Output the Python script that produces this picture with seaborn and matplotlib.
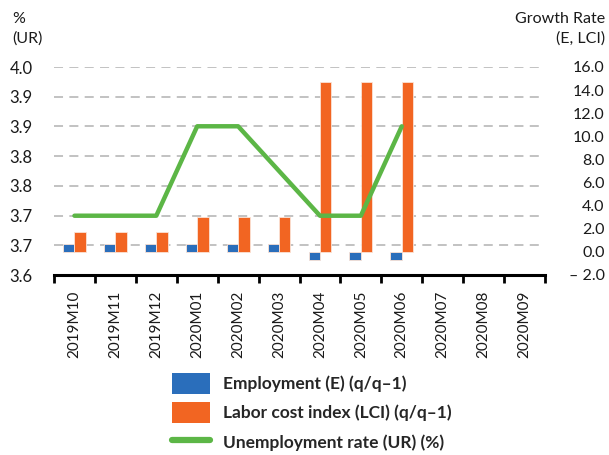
import numpy as np
import pandas as pd
import matplotlib
matplotlib.use("Agg")
import matplotlib.pyplot as plt
from matplotlib.patches import Patch
from matplotlib.lines import Line2D
from matplotlib.ticker import FuncFormatter
import seaborn as sns

# ---- data -------------------------------------------------------------
months = ["2019M10", "2019M11", "2019M12", "2020M01", "2020M02", "2020M03",
          "2020M04", "2020M05", "2020M06", "2020M07", "2020M08", "2020M09"]
observed = months[:9]

employment = [0.7, 0.7, 0.7, 0.7, 0.7, 0.7, -0.7, -0.7, -0.7]          # q/q-1, %
labor_cost = [1.7, 1.7, 1.7, 3.0, 3.0, 3.0, 14.7, 14.7, 14.7]          # q/q-1, %
unemployment = [3.714, 3.714, 3.714, 3.886, 3.886, 3.8, 3.714, 3.714, 3.886]  # %

ur_ticks = np.linspace(3.6, 4.0, 8)
growth_ticks = np.arange(-2, 17, 2)

name_e = "Employment (E) (q/q\u20131)"
name_lci = "Labor cost index (LCI) (q/q\u20131)"
name_ur = "Unemployment rate (UR) (%)"

blue = "#2A6EBB"
orange = "#F26522"
green = "#5CB646"
grid_grey = "#BDBDBD"

# ---- style ------------------------------------------------------------
sns.set_style("white")
plt.rcParams["font.family"] = ["Lato", "DejaVu Sans"]
fs = 11.5

W, H = 609, 455
fig = plt.figure(figsize=(W / 100, H / 100), dpi=100)
left, right, top, bottom = 54, 545, 67, 275
ax = fig.add_axes([left / W, 1 - bottom / H, (right - left) / W, (bottom - top) / H])

# unemployment scale (left) carries the dashed grid
ax.set_ylim(3.6, 4.0)
ax.set_yticks(ur_ticks)
ax.yaxis.set_major_formatter(FuncFormatter(lambda v, p: f"{v:.1f}"))
ax.yaxis.grid(True, color=grid_grey, linestyle=(0, (5, 3.5)), linewidth=1.3)
ax.xaxis.grid(False)
ax.tick_params(axis="y", length=0, pad=15.5, labelsize=fs + 0.5, colors="#1A1A1A")

# growth-rate bars on the right-hand scale
ax_bar = ax.twinx()
bars = pd.DataFrame({
    "month": observed * 2,
    "series": [name_e] * len(observed) + [name_lci] * len(observed),
    "value": employment + labor_cost,
})
sns.barplot(data=bars, x="month", y="value", hue="series", order=months,
            hue_order=[name_e, name_lci], palette=[blue, orange], width=0.56,
            saturation=1, errorbar=None, edgecolor="#FBE3D6", linewidth=0.6,
            legend=False, ax=ax_bar)
ax_bar.set_ylim(-2, 16)
ax_bar.set_yticks(growth_ticks)
ax_bar.set_yticklabels([f"{v:.1f}" if v >= 0 else f"\u2013 {abs(v):.1f}" for v in growth_ticks],
                       ha="right")
ax_bar.tick_params(axis="y", length=0, pad=43, labelsize=fs, colors="#1A1A1A")
ax_bar.set_ylabel("")
ax_bar.set_xlabel("")

# unemployment line, drawn above the bars
ax_line = ax.twinx()
sns.pointplot(x=observed, y=unemployment, order=months, color=green, markers="",
              linewidth=3.2, errorbar=None, ax=ax_line)
ax_line.set_ylim(3.6, 4.0)
ax_line.set_yticks([])
ax_line.set_ylabel("")

for a in (ax, ax_bar, ax_line):
    for s in a.spines.values():
        s.set_visible(False)
ax.spines["bottom"].set_visible(True)
ax.spines["bottom"].set_color("black")
ax.spines["bottom"].set_linewidth(2.2)

# category axis: labels at centres, tick marks at boundaries
ax.set_xlim(-0.5, len(months) - 0.5)
ax.set_xticks(range(len(months)))
ax.set_xticklabels(months, rotation=90, fontsize=fs - 0.5, color="#1A1A1A")
ax.set_xticks(np.arange(-0.5, len(months), 1), minor=True)
ax.tick_params(axis="x", which="both", bottom=True)
ax.tick_params(axis="x", which="major", length=0, pad=11)
ax.tick_params(axis="x", which="minor", length=6, width=2, color="black", direction="out")
ax.set_xlabel("")

# axis titles
fig.text(12 / W, 1 - 12 / H, "%\n(UR)", ha="left", va="top", fontsize=fs,
         linespacing=1.45, color="#1A1A1A")
fig.text(605 / W, 1 - 12 / H, "Growth Rate\n(E, LCI)", ha="right", va="top",
         multialignment="right", fontsize=fs, linespacing=1.45, color="#1A1A1A")

# legend
handles = [Patch(facecolor=blue, edgecolor="none"),
           Patch(facecolor=orange, edgecolor="none"),
           Line2D([0], [0], color=green, linewidth=4.5, solid_capstyle="round")]
fig.legend(handles, [name_e, name_lci, name_ur], loc="upper left",
           bbox_to_anchor=(172 / W, 1 - 373 / H), frameon=False, borderpad=0,
           borderaxespad=0, handlelength=2.2, handleheight=1.45, handletextpad=0.72,
           labelspacing=0.5, prop={"weight": "bold", "size": 12.5})

fig.savefig("out.png", dpi=100)
